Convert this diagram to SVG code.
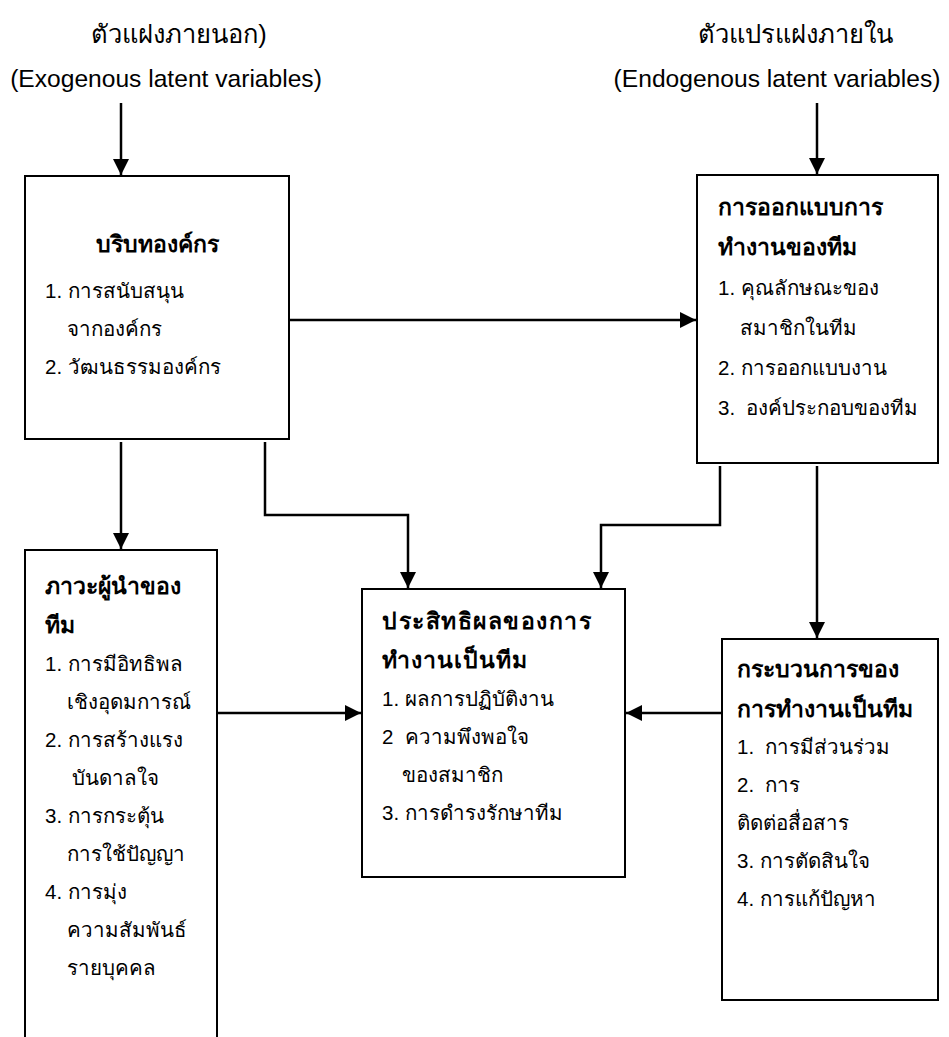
<svg xmlns="http://www.w3.org/2000/svg" width="949" height="1037" viewBox="0 0 949 1037">
<style>
text{font-family:"Liberation Sans","Noto Sans",Arial,sans-serif;fill:#000}
.hd{font-size:24.6px}
.th{font-size:25.5px}
.tx{font-size:20.5px}
.bd{font-size:23px;font-weight:bold}
.box{fill:#fff;stroke:#000;stroke-width:2}
.cn{fill:none;stroke:#000;stroke-width:2.5}
</style>
<defs>
<marker id="ah" markerUnits="userSpaceOnUse" markerWidth="16" markerHeight="16" viewBox="0 0 16 16" refX="16" refY="8" orient="auto">
<path d="M0,0 L16,8 L0,16 z" fill="#000"/>
</marker>
</defs>
<g id="labels">
<text class="th" x="179" y="43" text-anchor="middle">ตัวแฝงภายนอก)</text>
<text class="hd" x="166" y="87" text-anchor="middle">(Exogenous latent variables)</text>
<text class="th" x="795" y="43" text-anchor="middle">ตัวแปรแฝงภายใน</text>
<text class="hd" x="777" y="87" text-anchor="middle">(Endogenous latent variables)</text>
</g>
<g id="connectors">
<path class="cn" d="M121,103 V175" marker-end="url(#ah)"/>
<path class="cn" d="M817,103 V174" marker-end="url(#ah)"/>
<path class="cn" d="M290,320 H696" marker-end="url(#ah)"/>
<path class="cn" d="M121,442 V549" marker-end="url(#ah)"/>
<path class="cn" d="M265,442 V515 H408 V588" marker-end="url(#ah)"/>
<path class="cn" d="M720,466 V525 H601 V588" marker-end="url(#ah)"/>
<path class="cn" d="M817,466 V638" marker-end="url(#ah)"/>
<path class="cn" d="M218,713 H361" marker-end="url(#ah)"/>
<path class="cn" d="M722,713 H626" marker-end="url(#ah)"/>
</g>
<g id="node-context">
<rect class="box" x="25" y="176" width="264" height="263"/>
<text class="bd" x="157" y="252" text-anchor="middle">บริบทองค์กร</text>
<text class="tx" x="45" y="298">1. การสนับสนุน</text>
<text class="tx" x="67" y="336">จากองค์กร</text>
<text class="tx" x="45" y="374">2. วัฒนธรรมองค์กร</text>
</g>
<g id="node-design">
<rect class="box" x="697" y="175" width="241" height="288"/>
<text class="bd" x="718" y="215">การออกแบบการ</text>
<text class="bd" x="718" y="255">ทำงานของทีม</text>
<text class="tx" x="718" y="295">1. คุณลักษณะของ</text>
<text class="tx" x="740" y="335">สมาชิกในทีม</text>
<text class="tx" x="718" y="375">2. การออกแบบงาน</text>
<text class="tx" x="718" y="415" xml:space="preserve">3.  องค์ประกอบของทีม</text>
</g>
<g id="node-leadership">
<path class="box" d="M25,1037 V550 H217 V1037"/>
<text class="bd" x="45" y="594">ภาวะผู้นำของ</text>
<text class="bd" x="45" y="633">ทีม</text>
<text class="tx" x="45" y="671">1. การมีอิทธิพล</text>
<text class="tx" x="67" y="709">เชิงอุดมการณ์</text>
<text class="tx" x="45" y="747">2. การสร้างแรง</text>
<text class="tx" x="72" y="785">บันดาลใจ</text>
<text class="tx" x="45" y="823">3. การกระตุ้น</text>
<text class="tx" x="67" y="861">การใช้ปัญญา</text>
<text class="tx" x="45" y="899">4. การมุ่ง</text>
<text class="tx" x="67" y="937">ความสัมพันธ์</text>
<text class="tx" x="67" y="975">รายบุคคล</text>
</g>
<g id="node-effectiveness">
<rect class="box" x="362" y="589" width="263" height="288"/>
<text class="bd" x="382" y="629" letter-spacing="1.5">ประสิทธิผลของการ</text>
<text class="bd" x="382" y="668" letter-spacing="1">ทำงานเป็นทีม</text>
<text class="tx" x="382" y="706">1. ผลการปฏิบัติงาน</text>
<text class="tx" x="382" y="744" xml:space="preserve">2  ความพึงพอใจ</text>
<text class="tx" x="402" y="782">ของสมาชิก</text>
<text class="tx" x="382" y="820">3. การดำรงรักษาทีม</text>
</g>
<g id="node-process">
<rect class="box" x="722" y="639" width="216" height="361"/>
<text class="bd" x="737" y="677">กระบวนการของ</text>
<text class="bd" x="737" y="717">การทำงานเป็นทีม</text>
<text class="tx" x="737" y="754" xml:space="preserve">1.  การมีส่วนร่วม</text>
<text class="tx" x="737" y="792" xml:space="preserve">2.  การ</text>
<text class="tx" x="737" y="830">ติดต่อสื่อสาร</text>
<text class="tx" x="737" y="868">3. การตัดสินใจ</text>
<text class="tx" x="737" y="906">4. การแก้ปัญหา</text>
</g>
</svg>
